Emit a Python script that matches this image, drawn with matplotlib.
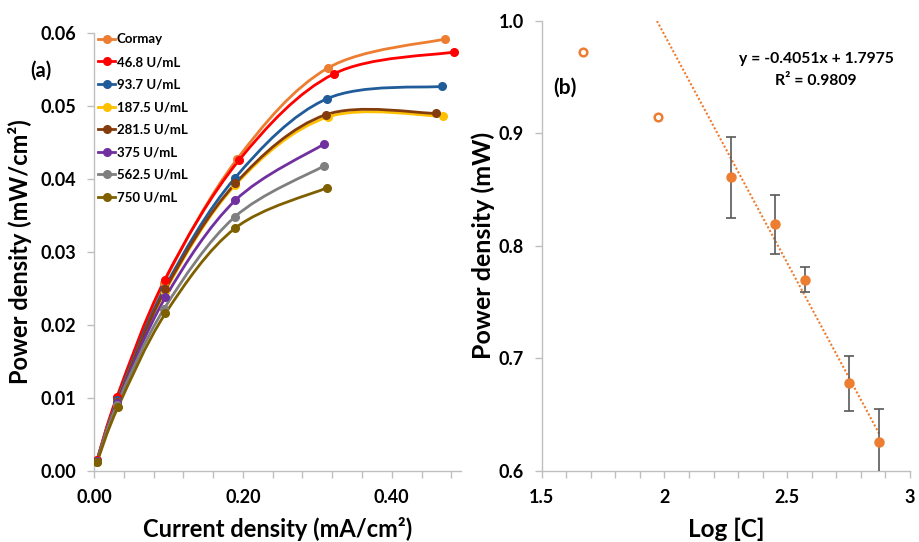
import numpy as np
import matplotlib
matplotlib.use("Agg")
from matplotlib import pyplot as plt
from matplotlib.path import Path
from matplotlib.patches import PathPatch
from matplotlib.lines import Line2D
from matplotlib.ticker import MultipleLocator, FormatStrFormatter

plt.rcParams['font.family'] = ['Lato', 'DejaVu Sans']
plt.rcParams['font.weight'] = 'bold'

# ---- panel (a) data: current density vs power density ----
labels = ["Cormay", "46.8 U/mL", "93.7 U/mL", "187.5 U/mL",
          "281.5 U/mL", "375 U/mL", "562.5 U/mL", "750 U/mL"]
colors = ["#ED7D31", "#FF0000", "#1F5C99", "#FFC000",
          "#843C0C", "#7030A0", "#7F7F7F", "#7F6000"]

x_cormay = [0.004, 0.031, 0.094, 0.192, 0.314, 0.472]
y_cormay = [0.0015, 0.0100, 0.0258, 0.0427, 0.0552, 0.0592]
x_468 = [0.004, 0.031, 0.095, 0.195, 0.322, 0.483]
y_468 = [0.0015, 0.0102, 0.0262, 0.0426, 0.0544, 0.0574]
x_937 = [0.004, 0.031, 0.094, 0.189, 0.313, 0.468]
y_937 = [0.0014, 0.0097, 0.0249, 0.0401, 0.0510, 0.0527]
x_1875 = [0.004, 0.031, 0.095, 0.190, 0.314, 0.469]
y_1875 = [0.0014, 0.0095, 0.0245, 0.0392, 0.0485, 0.0486]
x_2815 = [0.004, 0.031, 0.096, 0.190, 0.311, 0.459]
y_2815 = [0.0014, 0.0095, 0.0249, 0.0394, 0.0488, 0.0490]
x_375 = [0.004, 0.031, 0.096, 0.190, 0.309]
y_375 = [0.0014, 0.0093, 0.0238, 0.0371, 0.0448]
x_5625 = [0.004, 0.031, 0.094, 0.189, 0.309]
y_5625 = [0.0013, 0.0091, 0.0222, 0.0348, 0.0418]
x_750 = [0.004, 0.032, 0.096, 0.190, 0.313]
y_750 = [0.0012, 0.0087, 0.0216, 0.0333, 0.0388]

xs = [x_cormay, x_468, x_937, x_1875, x_2815, x_375, x_5625, x_750]
ys = [y_cormay, y_468, y_937, y_1875, y_2815, y_375, y_5625, y_750]

# ---- panel (b) data: log concentration vs power ----
log_open = [1.670, 1.972]
pow_open = [0.972, 0.914]
log_c = [2.273, 2.449, 2.574, 2.750, 2.875]
pow_c = [0.861, 0.819, 0.770, 0.678, 0.626]
pow_err = [0.036, 0.026, 0.011, 0.0245, 0.029]
fit_slope = -0.4051
fit_icpt = 1.7975
fit_r2 = 0.9809


def smooth_path(x, y):
    # excel-like smoothed line: bezier segments through the points
    p = np.column_stack([x, y])
    n = len(p)
    verts = [p[0]]
    codes = [Path.MOVETO]
    for i in range(n - 1):
        p0 = p[i - 1] if i > 0 else p[i]
        p3 = p[i + 2] if i + 2 < n else p[i + 1]
        c1 = p[i] + (p[i + 1] - p0) / 6.0
        c2 = p[i + 1] - (p3 - p[i]) / 6.0
        verts += [c1, c2, p[i + 1]]
        codes += [Path.CURVE4] * 3
    return Path(verts, codes)


def style_axes(ax):
    for s in ['top', 'right']:
        ax.spines[s].set_visible(False)
    for s in ['left', 'bottom']:
        ax.spines[s].set_color('#BFBFBF')
        ax.spines[s].set_linewidth(1.0)
    ax.tick_params(which='both', direction='out', color='#BFBFBF',
                   length=5, width=1.0, labelsize=13, pad=8)


fig = plt.figure(figsize=(9.19, 5.42), dpi=100)
ax1 = fig.add_axes([0.1023, 0.131, 0.3993, 0.808])
ax2 = fig.add_axes([0.5894, 0.1312, 0.4008, 0.8308])

# AX1
handles = []
for x, y, lab, col in zip(xs, ys, labels, colors):
    ax1.add_patch(PathPatch(smooth_path(x, y), facecolor='none',
                            edgecolor=col, lw=2.0, zorder=2))
    ax1.plot(x, y, 'o', color=col, ms=5.5, zorder=3)
    handles.append(Line2D([0], [0], color=col, lw=2.0, marker='o', ms=5.5))

ax1.set_xlim(0, 0.493)
ax1.set_ylim(0, 0.06)
ax1.xaxis.set_major_locator(MultipleLocator(0.2))
ax1.xaxis.set_minor_locator(MultipleLocator(0.04))
ax1.yaxis.set_major_locator(MultipleLocator(0.01))
ax1.xaxis.set_major_formatter(FormatStrFormatter('%.2f'))
ax1.yaxis.set_major_formatter(FormatStrFormatter('%.2f'))
style_axes(ax1)
ax1.set_xlabel("Current density (mA/cm²)", fontsize=17, fontweight='bold')
ax1.set_ylabel("Power density (mW/cm²)", fontsize=17, fontweight='bold')
ax1.xaxis.set_label_coords(0.5, -0.104)
ax1.yaxis.set_label_coords(-0.169, 0.5)
ax1.text(-0.175, 0.915, "(a)", transform=ax1.transAxes, fontsize=14.5,
         fontweight='bold', va='center')
ax1.legend(handles, labels, loc='upper left', bbox_to_anchor=(0.011, 0.999),
           frameon=False, prop={'size': 9.5, 'weight': 'bold'},
           handlelength=1.3, handletextpad=0.1,
           labelspacing=0.8, borderaxespad=0.0, borderpad=0.0)

# AX2
x_fit = np.array([min(log_open), max(log_c)])
ax2.plot(x_fit, fit_slope * x_fit + fit_icpt, linestyle=(0, (1, 1)),
         color='#ED7D31', lw=1.5, zorder=1)
ax2.errorbar(log_c, pow_c, yerr=pow_err, fmt='o', color='#ED7D31', ms=6.5,
             ecolor='#595959', elinewidth=1.2, capsize=3.5, capthick=1.2, zorder=3)
ax2.plot(log_open, pow_open, 'o', mfc='white', mec='#ED7D31', mew=1.8, ms=5.5, zorder=3)

ax2.set_xlim(1.5, 3)
ax2.set_ylim(0.6, 1.0)
ax2.xaxis.set_major_locator(MultipleLocator(0.5))
ax2.xaxis.set_minor_locator(MultipleLocator(0.1))
ax2.yaxis.set_major_locator(MultipleLocator(0.1))
ax2.xaxis.set_major_formatter(FormatStrFormatter('%g'))
ax2.yaxis.set_major_formatter(FormatStrFormatter('%.1f'))
style_axes(ax2)
ax2.set_xlabel("Log [C]", fontsize=17.5, fontweight='bold')
ax2.set_ylabel("Power density (mW)", fontsize=18, fontweight='bold')
ax2.xaxis.set_label_coords(0.5, -0.103)
ax2.yaxis.set_label_coords(-0.127, 0.5)
ax2.text(0.031, 0.85, "(b)", transform=ax2.transAxes, fontsize=15,
         fontweight='bold', va='center')
ax2.text(0.745, 0.915, f"y = {fit_slope}x + {fit_icpt}", transform=ax2.transAxes,
         fontsize=11.3, fontweight='bold', ha='center', va='center')
ax2.text(0.745, 0.866, f"R² = {fit_r2}", transform=ax2.transAxes,
         fontsize=11.3, fontweight='bold', ha='center', va='center')

plt.savefig('out.png', dpi=100)
plt.close()
